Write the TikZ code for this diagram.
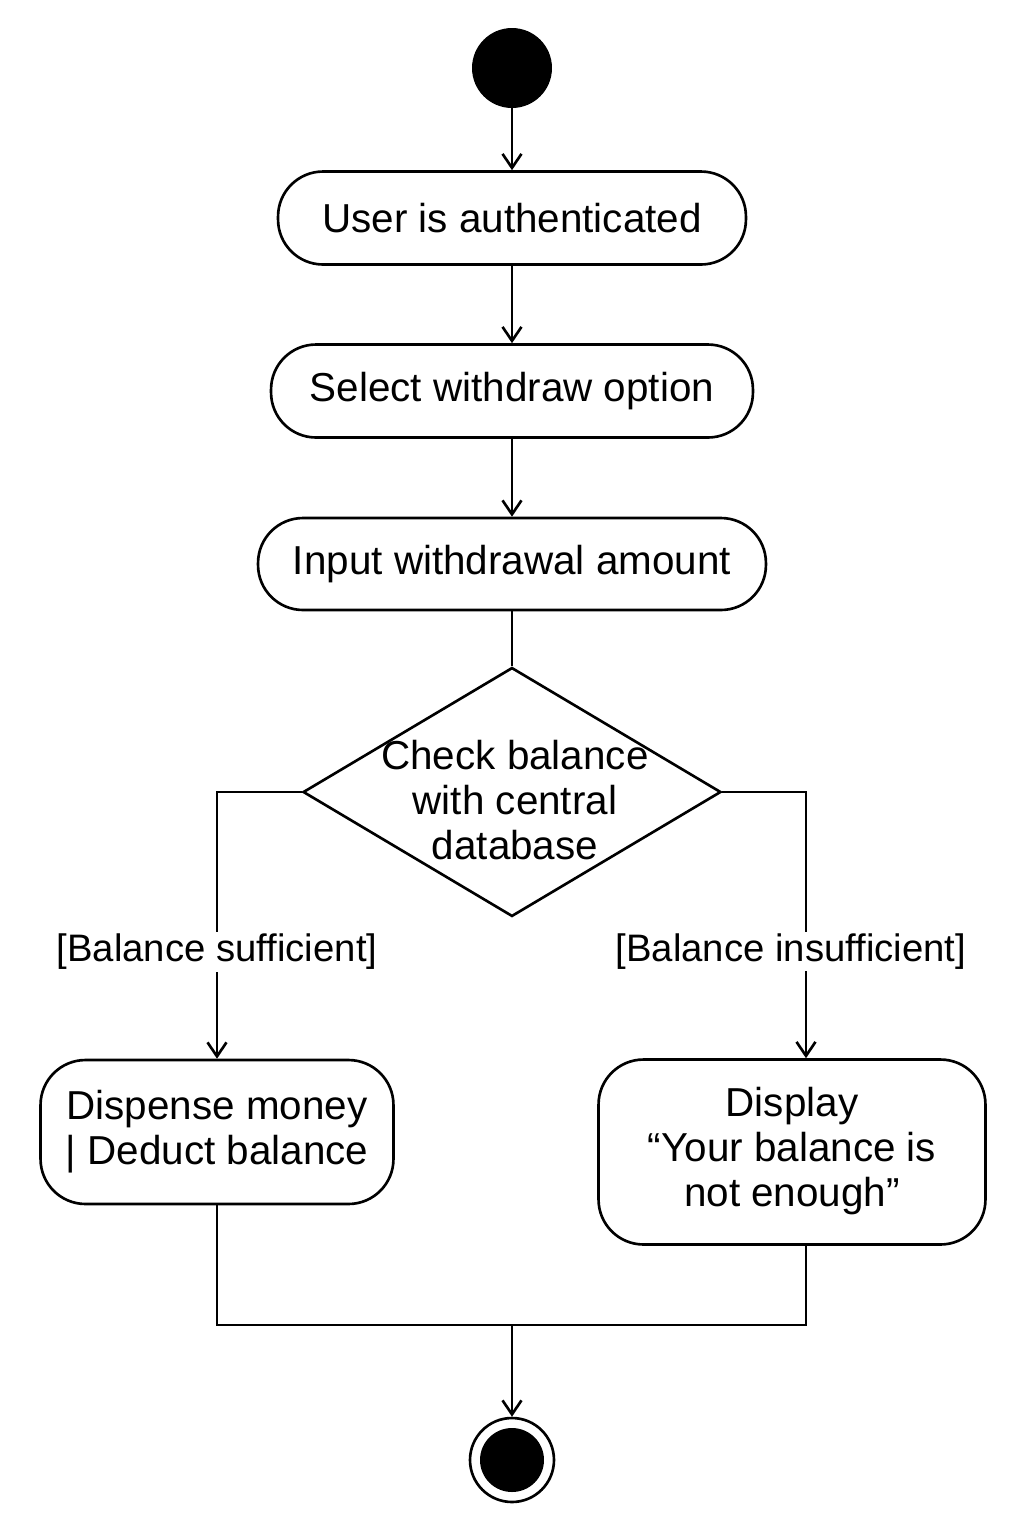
\documentclass[tikz,border=0pt]{standalone}
\usepackage{fontspec}
\setmainfont{Liberation Sans}
\usepackage{tikz}
\usetikzlibrary{arrows, positioning, shapes}
\usetikzlibrary{arrows.meta}

\tikzset{
  action/.style={draw, rounded corners=9mm, line width=1.5pt, align=center, inner sep=0pt},
  flow/.style={line width=1.5pt, -{Straight Barb[length=2.8mm,width=3.8mm]}},
  plain/.style={line width=1.5pt},
  guard/.style={fill=white, inner xsep=0pt, inner ysep=1pt, font=\fontsize{21.8}{24}\selectfont}
}

\begin{document}
\begin{tikzpicture}[x=0.02cm, y=-0.02cm, font=\fontsize{23}{25.5}\selectfont]
\useasboundingbox (0,0) rectangle (1024,1536);

\node[circle, fill=black, minimum size=1.6cm, inner sep=0pt] (start) at (512,68) {};
\node[action, minimum width=9.36cm, minimum height=1.86cm] (auth) at (512,218) {User is authenticated};
\node[action, minimum width=9.64cm, minimum height=1.86cm] (select) at (512,391) {Select withdraw option};
\node[action, minimum width=10.16cm, minimum height=1.84cm] (input) at (512,564) {Input withdrawal amount};

\node[diamond, draw, line width=1.5pt, minimum width=8.36cm, minimum height=4.98cm, inner sep=0pt, aspect=1.68] (check) at (512,792) {};
\node[align=center] (checktxt) at (515,800) {Check balance\\with central\\database};

\node[action, minimum width=7.06cm, minimum height=2.88cm, text depth=0.2cm] (dispense) at (217,1132) {Dispense money\\| Deduct balance};
\node[action, minimum width=7.74cm, minimum height=3.7cm, text depth=0.2cm] (message) at (792,1152) {Display\\“Your balance is\\not enough”};

\node[circle, draw, line width=1.5pt, minimum size=1.68cm, inner sep=0pt] (final) at (512,1460) {};
\node[circle, fill=black, minimum size=1.28cm, inner sep=0pt] (finaldot) at (final) {};

\coordinate (lturn) at (217,792);
\coordinate (rturn) at (806,792);
\coordinate (join) at (512,1325);

\draw[flow] (start) -- (auth);
\draw[flow] (auth) -- (select);
\draw[flow] (select) -- (input);
\draw[plain] (input) -- (check);

\draw[flow] (check.west) -- (lturn) -- node[guard, pos=0.6] (yes) {[Balance sufficient]} (dispense);
\draw[flow] (check.east) -- (rturn) -- node[guard, pos=0.6, xshift=-0.3cm] (no) {[Balance insufficient]} (rturn |- message.north);

\draw[plain] (dispense) |- (join) -| (rturn |- message.south);
\draw[flow] (join) -- (final);

\end{tikzpicture}
\end{document}
